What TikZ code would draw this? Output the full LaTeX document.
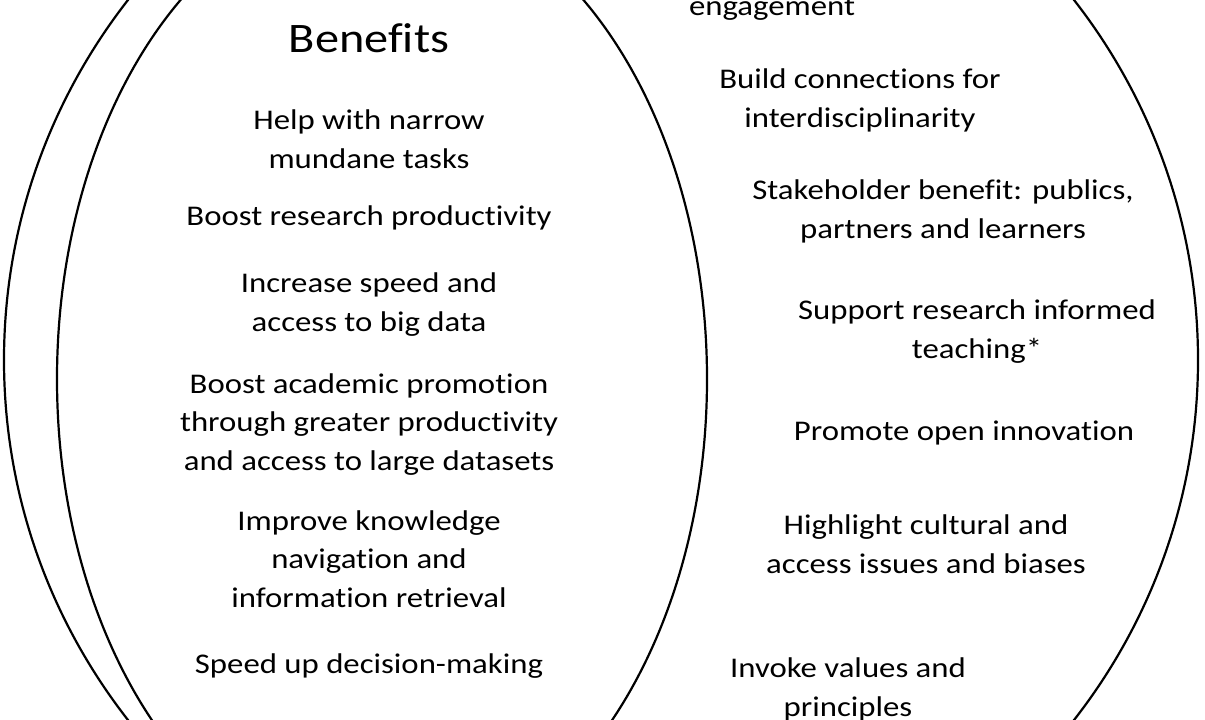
\documentclass[tikz,border=0pt]{standalone}
\usepackage{fontspec}
\setmainfont{Carlito}[FakeStretch=1.15, Ligatures=NoCommon]
\begin{document}
\begin{tikzpicture}[x=1pt,y=-1pt,
  ring/.style={draw=black, line width=2.2pt},
  txt/.style={font=\fontsize{28.5}{38.3}\selectfont, align=center, anchor=base, inner sep=0pt},
  head/.style={font=\fontsize{42}{50}\selectfont, align=center, anchor=base, inner sep=0pt}]
\useasboundingbox (0,0) rectangle (1205,720);
\clip (0,0) rectangle (1205,720);
\fill[white] (0,0) rectangle (1205,720);
% ellipses
\draw[ring] (601,360) ellipse [x radius=597, y radius=590];
\draw[ring] (382,379) ellipse [x radius=325, y radius=483];
% left column (anchor = baseline of last line)
\node[head] (ben) at (369,52) {Benefits};
\node[txt] (l1) at (369,168) {Help with narrow\\mundane tasks};
\node[txt] (l2) at (369,225) {Boost research productivity};
\node[txt] (l3) at (369,331) {Increase speed and\\access to big data};
\node[txt] (l4) at (369,470) {Boost academic promotion\\through greater productivity\\and access to large datasets};
\node[txt] (l5) at (369,607) {Improve knowledge\\navigation and\\information retrieval};
\node[txt] (l6) at (369,673) {Speed up decision-making};
% right column
\node[txt] (r0) at (772,16) {engagement};
\node[txt] (r1) at (860,127) {Build connections for\\interdisciplinarity};
\node[txt] (r2) at (943,238) {Stakeholder benefit: publics,\\partners and learners};
\node[txt] (r3) at (977,358) {Support research informed\\teaching*};
\node[txt] (r4) at (964,440) {Promote open innovation};
\node[txt] (r5) at (926,573) {Highlight cultural and\\access issues and biases};
\node[txt] (r6) at (848,716) {Invoke values and\\principles};
\end{tikzpicture}
\end{document}
